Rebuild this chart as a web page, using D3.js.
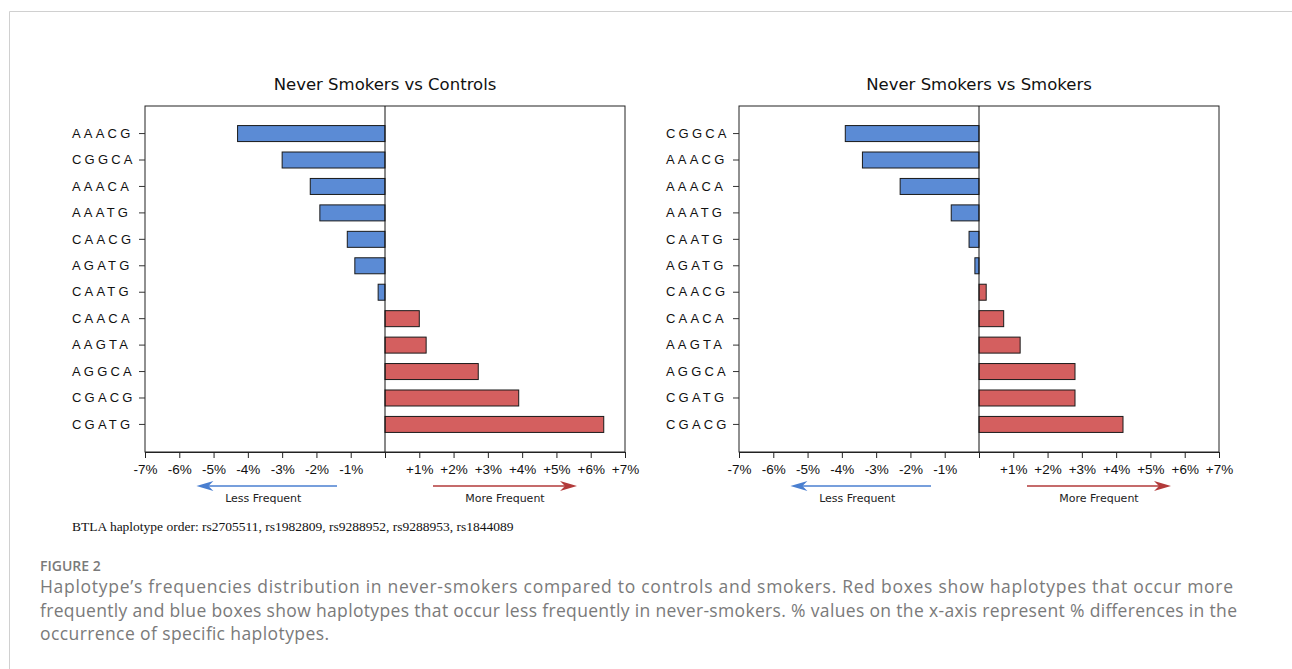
<!DOCTYPE html>
<html lang="en">
<head>
  <meta charset="UTF-8">
  <style>
    html, body { margin: 0; padding: 0; background: #fff; }
    .hap text { font-family: "Liberation Sans", Arial, sans-serif; font-size: 13px; letter-spacing: 3.2px; fill: #111; }
    .pct text { font-family: "Liberation Sans", Arial, sans-serif; font-size: 13.5px; fill: #111; }
    .title { font-family: "DejaVu Sans", Verdana, sans-serif; font-size: 16.5px; fill: #111; }
    .note { font-family: "DejaVu Sans", Verdana, sans-serif; font-size: 11px; fill: #222; }
    .caption { font-family: "Open Sans", sans-serif; fill: #7a7a7a; }
  </style>
  <script src="https://d3js.org/d3.v7.min.js"></script>
</head>
<body>
  <svg id="fig" width="1292" height="669"></svg>

  <script>
    // haplotypes, top to bottom, and % differences
    const controlsHaps = ["AAACG", "CGGCA", "AAACA", "AAATG", "CAACG", "AGATG",
                          "CAATG", "CAACA", "AAGTA", "AGGCA", "CGACG", "CGATG"];
    const controlsDiff = [-4.3, -3.0, -2.18, -1.9, -1.1, -0.88, -0.2, 1.0, 1.2, 2.72, 3.9, 6.38];

    const smokersHaps = ["CGGCA", "AAACG", "AAACA", "AAATG", "CAATG", "AGATG",
                         "CAACG", "CAACA", "AAGTA", "AGGCA", "CGATG", "CGACG"];
    const smokersDiff = [-3.9, -3.4, -2.3, -0.81, -0.29, -0.12, 0.21, 0.72, 1.2, 2.8, 2.8, 4.2];

    const pctTicks = d3.range(-7, 8);
    const panelTitles = ["Never Smokers vs Controls", "Never Smokers vs Smokers"];

    const svg = d3.select("#fig");

    // light frame round the figure
    svg.append("path")
        .attr("d", "M9.5,669 V11.5 H1292")
        .attr("fill", "none")
        .attr("stroke", "#d0d0d0");

    const W = 480, H = 346;
    const panels = [
      { left: 145, haps: controlsHaps, diff: controlsDiff, title: panelTitles[0] },
      { left: 739, haps: smokersHaps, diff: smokersDiff, title: panelTitles[1] }
    ];

    panels.forEach(p => {
      const g = svg.append("g").attr("transform", `translate(${p.left}, 106)`);

      const x = d3.scaleLinear().domain([-7, 7]).range([0, W]);
      const y = d3.scaleBand().domain(p.haps).range([0, H])
          .paddingInner(0.395).paddingOuter(0.74);

      // plot box
      g.append("rect")
          .attr("width", W).attr("height", H)
          .attr("fill", "none").attr("stroke", "#222").attr("stroke-width", 1);

      // bars
      g.selectAll(".bar")
        .data(p.haps.map((h, i) => ({ hap: h, v: p.diff[i] })))
        .enter().append("rect")
          .attr("class", "bar")
          .attr("x", d => x(Math.min(0, d.v)))
          .attr("y", d => y(d.hap))
          .attr("width", d => Math.abs(x(d.v) - x(0)))
          .attr("height", y.bandwidth())
          .attr("fill", d => d.v < 0 ? "#5b8bd5" : "#d45f5f")
          .attr("stroke", "#1a1a1a")
          .attr("stroke-width", 1);

      // zero line
      g.append("line")
          .attr("x1", x(0)).attr("x2", x(0))
          .attr("y1", 0).attr("y2", H)
          .attr("stroke", "#111");

      // y axis (haplotype labels, left aligned)
      const yAxis = g.append("g").attr("class", "hap")
          .call(d3.axisLeft(y).tickSize(6));
      yAxis.select(".domain").remove();
      yAxis.selectAll("line").attr("stroke", "#333");
      yAxis.selectAll("text")
          .attr("x", -73)
          .attr("text-anchor", "start");

      // x axis
      const xAxis = g.append("g").attr("class", "pct")
          .attr("transform", `translate(0, ${H})`)
          .call(d3.axisBottom(x).tickValues(pctTicks).tickSize(6).tickPadding(6)
              .tickFormat(d => d === 0 ? "" : (d > 0 ? "+" : "") + d + "%"));
      xAxis.select(".domain").attr("stroke", "#222");
      xAxis.selectAll("line").attr("stroke", "#222");

      // title
      g.append("text")
          .attr("class", "title")
          .attr("x", x(0)).attr("y", -16)
          .attr("text-anchor", "middle")
          .text(p.title);

      // direction arrows
      const ay = H + 34;
      const arrows = [
        { from: -1.4, to: -5.5, color: "#4a7fd0", label: "Less Frequent", lx: -3.55 },
        { from: 1.4, to: 5.6, color: "#b23a3a", label: "More Frequent", lx: 3.5 }
      ];
      arrows.forEach(a => {
        const dir = Math.sign(a.to - a.from);
        const tip = x(a.to);
        g.append("line")
            .attr("x1", x(a.from)).attr("x2", tip - dir * 8)
            .attr("y1", ay).attr("y2", ay)
            .attr("stroke", a.color).attr("stroke-width", 1.3);
        g.append("path")
            .attr("d", `M${tip},${ay} L${tip - dir * 17},${ay - 5} L${tip - dir * 12},${ay} L${tip - dir * 17},${ay + 5} Z`)
            .attr("fill", a.color);
        g.append("text")
            .attr("class", "note")
            .attr("x", x(a.lx)).attr("y", ay + 16)
            .attr("text-anchor", "middle")
            .text(a.label);
      });
    });

    // footnote under the left panel
    svg.append("text")
        .attr("x", 72).attr("y", 531)
        .style("font-family", '"Liberation Serif", "Times New Roman", serif')
        .style("font-size", "13.5px")
        .attr("fill", "#111")
        .text("BTLA haplotype order: rs2705511, rs1982809, rs9288952, rs9288953, rs1844089");

    // figure caption
    svg.append("text")
        .attr("class", "caption")
        .attr("x", 40).attr("y", 571)
        .style("font-size", "14px")
        .style("font-weight", 600)
        .attr("fill", "#858585")
        .text("FIGURE 2");

    const captionLines = [
      "Haplotype’s frequencies distribution in never-smokers compared to controls and smokers. Red boxes show haplotypes that occur more",
      "frequently and blue boxes show haplotypes that occur less frequently in never-smokers. % values on the x-axis represent % differences in the",
      "occurrence of specific haplotypes."
    ];
    const captionWidths = [1193, 1197, 289];
    svg.append("g").selectAll("text")
      .data(captionLines)
      .enter().append("text")
        .attr("class", "caption")
        .attr("x", 40)
        .attr("y", (d, i) => 593 + i * 23.5)
        .attr("textLength", (d, i) => captionWidths[i])
        .attr("lengthAdjust", "spacing")
        .style("font-size", "17.5px")
        .text(d => d);
  </script>
</body>
</html>
